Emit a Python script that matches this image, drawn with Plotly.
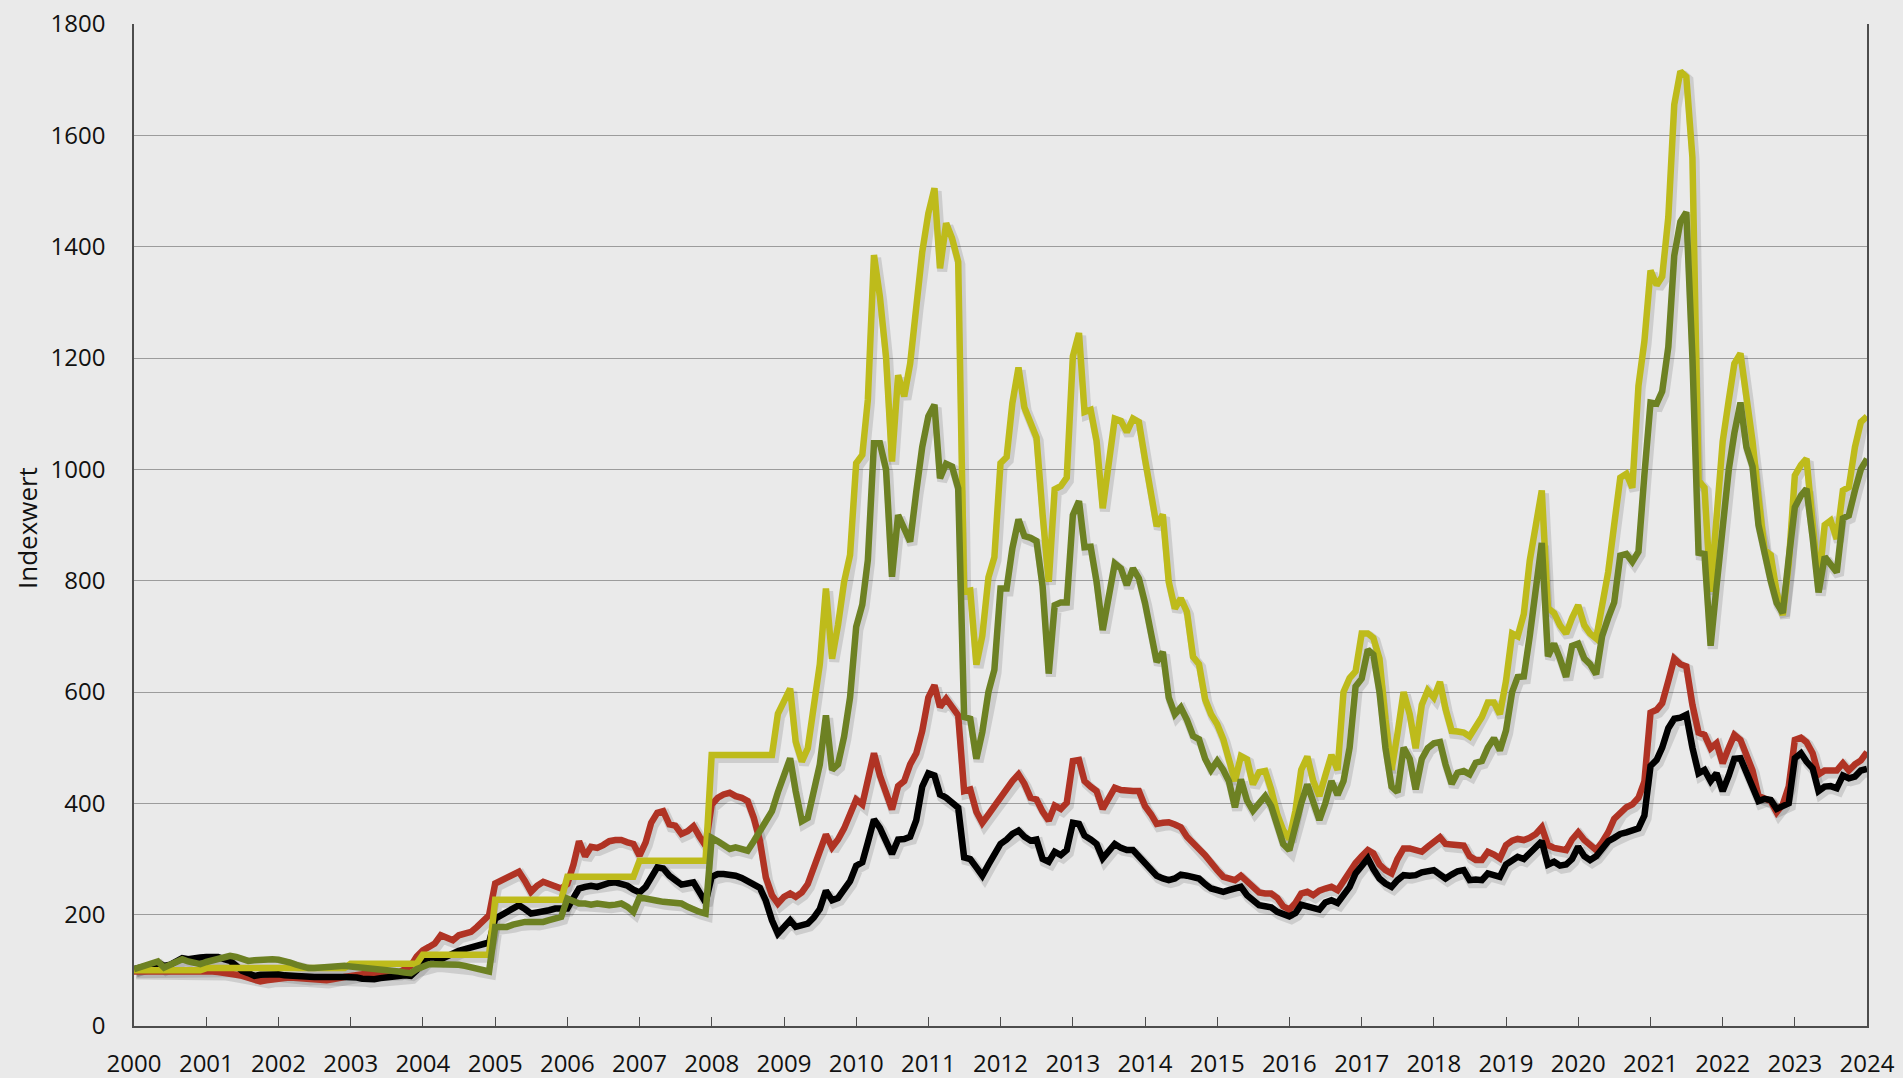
import plotly.graph_objects as go
import pandas as pd

# Monthly observations, Jan 2000 .. Jan 2024
months = pd.date_range("2000-01-01", periods=289, freq="MS")

black = [
    102,104,106,110,114,108,110,116,122,120,123,123,   # 2000
    124,125,124,120,117,108,99,95,90,92,93,93,          # 2001
    93,91,90,89,88,87,88,88,89,88,88,88,                # 2002
    88,87,85,83,84,86,88,90,90,91,90,100,               # 2003
    115,123,123,120,125,132,135,138,141,145,148,150,    # 2004
    193,200,205,210,217,210,202,204,205,208,211,211,    # 2005
    211,230,247,250,252,250,255,257,258,256,252,245,    # 2006
    240,250,268,285,283,270,262,254,256,258,240,222,    # 2007
    268,273,273,272,270,266,261,255,248,225,190,166,    # 2008
    180,190,178,180,184,195,210,243,226,230,245,260,    # 2009
    288,294,330,371,356,330,309,335,336,340,370,430,    # 2010
    454,450,416,410,400,392,303,300,285,270,290,310,    # 2011
    327,335,345,351,340,333,335,300,295,313,307,316,    # 2012
    365,363,342,335,327,301,315,327,320,316,316,305,    # 2013
    292,280,270,265,262,265,272,270,266,265,255,247,    # 2014
    244,241,244,247,250,235,227,217,215,213,205,200,    # 2015
    197,203,218,215,212,209,222,226,221,235,250,274,    # 2016
    290,301,282,265,256,250,262,271,270,271,276,278,    # 2017
    280,272,265,272,278,280,262,263,262,274,270,268,    # 2018
    290,298,304,300,310,320,332,290,295,288,290,300,    # 2019
    322,305,298,305,320,332,338,345,348,352,355,378,    # 2020
    467,478,500,535,552,554,559,500,454,460,440,454,    # 2021
    422,450,480,481,455,425,404,408,406,390,394,400,    # 2022
    481,490,475,463,422,430,431,427,450,445,448,459,    # 2023
    462,                                                # 2024
]

red = [
    98,98,99,100,100,99,99,100,99,99,99,99,
    100,98,97,96,94,92,90,86,82,80,82,84,
    85,86,87,86,85,84,82,81,82,84,85,88,
    90,92,94,96,96,95,94,93,96,103,108,125,
    136,142,148,163,158,154,163,165,169,178,190,199,
    256,262,268,272,277,260,241,252,259,255,250,247,
    255,290,332,305,322,320,325,332,334,334,330,327,
    306,330,365,383,386,362,360,345,350,359,340,324,
    398,410,416,419,413,410,404,374,333,267,235,220,
    232,238,232,240,255,285,315,344,321,335,355,380,
    407,398,440,490,450,420,389,431,440,470,490,530,
    590,612,573,588,575,558,422,425,385,365,380,395,
    413,425,440,452,435,410,407,385,369,396,390,401,
    476,478,440,430,422,390,410,428,424,422,422,422,
    395,380,363,365,366,362,357,340,327,318,307,292,
    280,268,264,262,270,260,250,240,238,238,230,215,
    209,221,238,241,235,243,247,250,244,262,277,293,
    305,316,310,290,280,274,300,319,319,316,313,322,
    332,339,327,326,325,324,305,298,298,313,308,301,
    325,333,336,334,338,345,357,325,320,318,316,335,
    348,334,325,316,330,348,372,384,393,398,410,439,
    563,568,580,620,660,650,646,577,527,523,499,508,
    472,500,523,514,490,459,413,408,404,384,398,430,
    514,518,510,490,452,459,459,459,472,459,470,477,
    492,
]

green = [
    102,106,110,114,116,105,110,115,120,116,113,111,
    115,118,121,124,126,124,120,117,118,119,120,120,
    119,117,114,110,106,104,104,105,105,105,106,108,
    107,106,105,105,104,103,102,100,98,96,95,102,
    106,111,111,111,110,111,110,108,105,102,99,98,
    178,178,178,182,185,187,187,186,187,190,193,196,
    229,225,220,220,218,220,218,217,218,220,214,205,
    231,228,226,225,223,222,222,220,214,208,205,202,
    338,332,325,318,321,318,315,332,350,370,386,420,
    450,481,422,368,374,420,470,558,460,470,520,590,
    717,757,837,1047,1047,1000,807,918,895,870,960,1040,
    1095,1116,984,1010,1005,966,555,552,480,528,600,640,
    786,786,858,910,880,877,871,790,633,756,761,761,
    918,943,860,861,798,711,770,831,822,792,822,804,
    760,700,654,672,590,560,572,550,521,515,480,460,
    476,460,440,393,443,405,387,400,413,395,357,327,
    316,362,400,434,400,370,400,440,415,440,500,610,
    624,676,667,600,500,430,420,500,480,425,480,499,
    508,510,470,435,455,458,452,473,476,500,517,495,
    531,600,627,628,700,780,868,664,687,660,627,683,
    687,660,650,632,700,733,761,845,848,834,852,990,
    1120,1118,1140,1220,1384,1445,1462,1200,850,848,683,790,
    910,1000,1065,1120,1040,1005,900,845,800,760,742,840,
    932,953,965,878,779,843,830,815,912,917,962,1000,
    1019,
]

yellow = [
    100,100,100,100,100,100,100,100,100,100,100,100,
    104,104,104,104,104,104,104,104,104,104,104,104,
    104,104,104,104,104,104,104,104,104,104,104,104,
    112,112,112,112,112,112,112,112,112,112,112,112,
    128,128,128,128,128,128,128,128,128,128,128,128,
    227,227,227,227,227,227,227,227,227,227,227,227,
    268,268,268,268,268,268,268,268,268,268,268,268,
    297,297,297,297,297,297,297,297,297,297,297,297,
    487,487,487,487,487,487,487,487,487,487,487,561,
    585,606,511,475,499,580,650,786,660,720,798,846,
    1011,1026,1125,1385,1310,1202,1014,1169,1131,1190,1292,1390,
    1460,1505,1361,1442,1415,1373,780,782,649,701,806,842,
    1011,1022,1119,1183,1111,1085,1057,919,798,964,970,985,
    1203,1245,1103,1107,1051,930,1010,1091,1087,1067,1091,1085,
    1018,960,898,919,798,750,768,744,663,650,587,560,
    542,515,479,440,485,479,434,456,458,425,380,352,
    336,387,460,484,440,413,450,487,460,600,625,637,
    705,705,697,660,551,460,525,600,560,499,577,603,
    590,618,570,530,529,527,520,540,555,581,581,560,
    620,705,700,740,836,900,962,751,742,720,705,733,
    756,720,705,696,760,816,900,985,992,967,1150,1230,
    1357,1331,1346,1453,1655,1715,1705,1560,980,967,780,900,
    1050,1125,1190,1208,1130,1050,950,855,846,779,738,830,
    989,1008,1019,900,790,900,908,875,962,968,1040,1085,
    1095,
]

for s in (black, red, green, yellow):
    assert len(s) == len(months), len(s)

series = [
    ("Reihe rot", red, "#B03324"),
    ("Reihe schwarz", black, "#000000"),
    ("Reihe gelb", yellow, "#BEBB1B"),
    ("Reihe grün", green, "#6D8123"),
]

year_ticks = list(range(2000, 2025))

fig = go.Figure()

# invisible carrier trace so the base axes (grid, ticks, labels) are drawn
fig.add_trace(go.Scatter(
    x=months, y=black, mode="lines", line=dict(width=0, color="rgba(0,0,0,0)"),
    hoverinfo="skip", showlegend=False, xaxis="x", yaxis="y"))

# soft drop shadows (drawn on a slightly shifted overlay axis pair)
for name, vals, col in series:
    fig.add_trace(go.Scatter(
        x=months, y=vals, mode="lines", name=name + " Schatten",
        line=dict(color="rgba(0,0,0,0.12)", width=10),
        xaxis="x2", yaxis="y2", hoverinfo="skip", showlegend=False))

for name, vals, col in series:
    fig.add_trace(go.Scatter(
        x=months, y=vals, mode="lines", name=name,
        line=dict(color=col, width=6.5),
        xaxis="x3", yaxis="y3", showlegend=False))

font_main = "Open Sans, Noto Sans, Arial, sans-serif"

fig.update_layout(
    width=1903, height=1078,
    margin=dict(l=134, r=36, t=24, b=52),
    paper_bgcolor="#EAEAEA",
    plot_bgcolor="#EAEAEA",
    font=dict(family=font_main, size=24, color="#111111"),
    showlegend=False,
    xaxis=dict(
        type="date",
        range=["2000-01-01", "2024-01-01"],
        tickvals=[f"{y}-01-01" for y in year_ticks],
        ticktext=[str(y) for y in year_ticks],
        showgrid=False, zeroline=False, automargin=False,
        showline=True, linecolor="#4d4d4d", linewidth=1.5, mirror=False,
        ticks="inside", ticklen=9, tickwidth=1, tickcolor="#4d4d4d",
        ticklabelstandoff=15,
        tickfont=dict(family=font_main, size=24, color="#111111"),
    ),
    yaxis=dict(
        range=[0, 1800], dtick=200, tick0=0,
        showgrid=True, gridcolor="#9c9c9c", gridwidth=1,
        zeroline=False, automargin=False,
        showline=True, linecolor="#4d4d4d", linewidth=1.5, mirror=True,
        ticks="", ticklabelstandoff=22,
        tickfont=dict(family=font_main, size=24, color="#111111"),
    ),
    xaxis2=dict(type="date", overlaying="x", range=["1999-12-21", "2023-12-21"], visible=False),
    yaxis2=dict(overlaying="y", range=[5.4, 1805.4], visible=False),
    xaxis3=dict(type="date", overlaying="x", range=["2000-01-01", "2024-01-01"], visible=False),
    yaxis3=dict(overlaying="y", range=[0, 1800], visible=False),
    annotations=[dict(
        text="Indexwert", xref="paper", yref="paper",
        x=-0.0617, y=0.497, xanchor="center", yanchor="middle",
        textangle=-90, showarrow=False,
        font=dict(family=font_main, size=26, color="#111111"),
    )],
)

fig.write_html(
    "out.html",
    config={"displayModeBar": False},
    post_script="document.body.style.margin='0';document.body.style.overflow='hidden';document.body.style.background='#EAEAEA';",
)
